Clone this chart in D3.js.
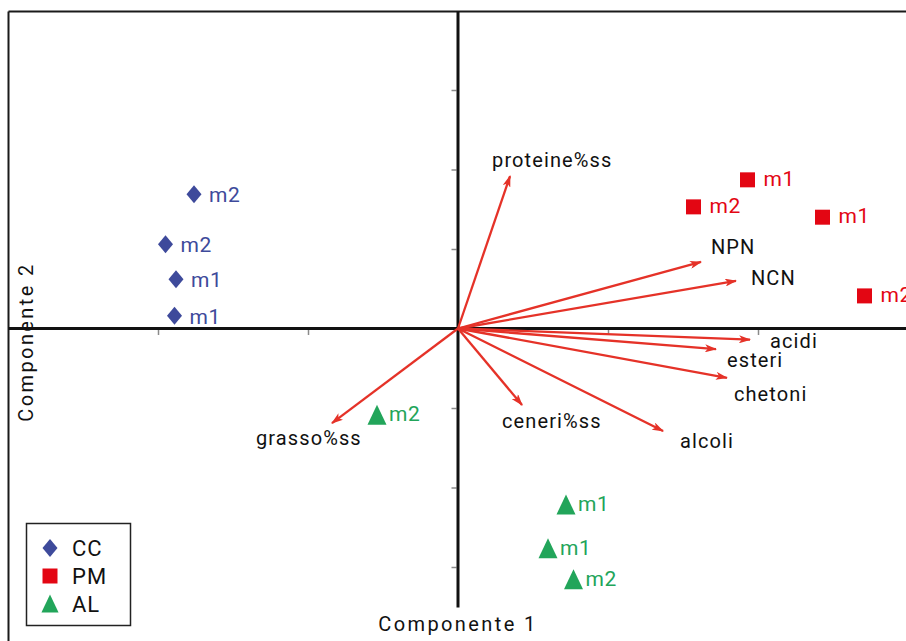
<!DOCTYPE html>
<html>
<head>
<meta charset="utf-8">
<script src="https://cdn.jsdelivr.net/npm/d3@7"></script>
<style>
  html, body { margin: 0; padding: 0; background: #fff; }
  svg { display: block; }
  text { font-family: Roboto, "Noto Sans", sans-serif; }
</style>
</head>
<body>
<svg id="chart" width="906" height="641"></svg>
<script>
// Scores of the samples on the first two principal components
const groups = ["CC", "PM", "AL"];
const groupColors = ["#3e4a9b", "#e30613", "#22a55a"];

const ccLabels = ["m2", "m2", "m1", "m1"];
const ccPC1 = [-1.76, -1.95, -1.88, -1.89];
const ccPC2 = [1.69, 1.06, 0.62, 0.16];

const pmLabels = ["m1", "m2", "m1", "m2"];
const pmPC1 = [1.93, 1.57, 2.43, 2.71];
const pmPC2 = [1.87, 1.53, 1.40, 0.41];

const alLabels = ["m2", "m1", "m1", "m2"];
const alPC1 = [-0.54, 0.72, 0.60, 0.77];
const alPC2 = [-1.09, -2.22, -2.77, -3.16];

// Variable loadings (arrow tips)
const varNames = ["proteine%ss", "NPN", "NCN", "acidi", "esteri", "chetoni", "alcoli", "ceneri%ss", "grasso%ss"];
const varPC1 = [0.347, 1.62, 1.853, 1.947, 1.72, 1.793, 1.367, 0.427, -0.84];
const varPC2 = [1.918, 0.837, 0.60, -0.14, -0.26, -0.62, -1.29, -0.962, -1.19];

const xTicks = [-2, -1, 1, 2];
const yTicks = [-3, -2, -1, 1, 2, 3];

const xTitle = "Componente 1";
const yTitle = "Componente 2";

// label placement relative to each arrow tip (px)
const varLabelDx = [-18, 10, 15, 20, 11, 7, 17, -20, -76];
const varLabelDy = [-9, -8, 4, 8, 18, 23, 17, 23, 22];

const svg = d3.select("#chart");

const x = d3.scaleLinear().domain([-3, 3]).range([8, 908]);
const y = d3.scaleLinear().domain([-4, 4]).range([646.5, 10.5]);

const x0 = x(0), y0 = y(0);

// frame (extends past the right and bottom edges)
svg.append("path")
  .attr("d", `M8.5,${y(4) + 1}V645M8.5,${y(4) + 1}H910`)
  .attr("fill", "none").attr("stroke", "#1a1a1a").attr("stroke-width", 2);

// tick marks
const xAxis = d3.axisBottom(x).tickValues(xTicks).tickSize(5).tickFormat("");
const gx = svg.append("g").attr("transform", `translate(0,${y0 + 1.5})`).call(xAxis);
gx.select(".domain").remove();
gx.selectAll(".tick line").attr("stroke", "#8a8a8a").attr("stroke-width", 1.5);

const yAxis = d3.axisLeft(y).tickValues(yTicks).tickSize(5).tickFormat("");
const gy = svg.append("g").attr("transform", `translate(${x0 - 1.5},0)`).call(yAxis);
gy.select(".domain").remove();
gy.selectAll(".tick line").attr("stroke", "#8a8a8a").attr("stroke-width", 1.5);

// axes through the origin
svg.append("line")
  .attr("x1", 8.5).attr("x2", 906).attr("y1", y0).attr("y2", y0)
  .attr("stroke", "#111").attr("stroke-width", 3);
svg.append("line")
  .attr("x1", x0).attr("x2", x0).attr("y1", y(4) + 1).attr("y2", y(-3.51))
  .attr("stroke", "#111").attr("stroke-width", 3);

// arrowhead marker
svg.append("defs").append("marker")
  .attr("id", "head")
  .attr("viewBox", "0 0 12 8")
  .attr("refX", 11).attr("refY", 4)
  .attr("markerWidth", 12).attr("markerHeight", 8)
  .attr("markerUnits", "userSpaceOnUse")
  .attr("orient", "auto")
  .append("path").attr("d", "M0,0L12,4L0,8L3,4Z").attr("fill", "#e53228");

// loading vectors
const vars = varNames.map((n, i) => ({ n, px: varPC1[i], py: varPC2[i], dx: varLabelDx[i], dy: varLabelDy[i] }));
svg.append("g").selectAll("line").data(vars).join("line")
  .attr("x1", x0).attr("y1", y0)
  .attr("x2", d => x(d.px)).attr("y2", d => y(d.py))
  .attr("stroke", "#e53228").attr("stroke-width", 2.3)
  .attr("marker-end", "url(#head)");

svg.append("g").selectAll("text").data(vars).join("text")
  .attr("x", d => x(d.px) + d.dx).attr("y", d => y(d.py) + d.dy)
  .attr("font-size", 20).attr("letter-spacing", 1.1).attr("fill", "#111")
  .text(d => d.n);

// marker shapes
const diamond = "M0,-9L7.5,0L0,9L-7.5,0Z";
const square = "M-7.5,-7.5H7.5V7.5H-7.5Z";
const triangle = "M0,-10.5L9.5,9.5H-9.5Z";
const shapes = [diamond, square, triangle];

const series = [
  { labels: ccLabels, pc1: ccPC1, pc2: ccPC2, dx: 15, dy: 8 },
  { labels: pmLabels, pc1: pmPC1, pc2: pmPC2, dx: 16, dy: 6 },
  { labels: alLabels, pc1: alPC1, pc2: alPC2, dx: 12, dy: 6 }
];

series.forEach((s, gi) => {
  const pts = s.labels.map((l, i) => ({ l, px: s.pc1[i], py: s.pc2[i] }));
  const g = svg.append("g");
  g.selectAll("path").data(pts).join("path")
    .attr("d", shapes[gi])
    .attr("transform", d => `translate(${x(d.px)},${y(d.py)})`)
    .attr("fill", groupColors[gi]);
  g.selectAll("text").data(pts).join("text")
    .attr("x", d => x(d.px) + s.dx).attr("y", d => y(d.py) + s.dy)
    .attr("font-size", 21).attr("fill", groupColors[gi])
    .attr("letter-spacing", 0.5)
    .text(d => d.l);
});

// axis titles
svg.append("text")
  .attr("x", 458).attr("y", 631).attr("text-anchor", "middle")
  .attr("font-size", 20).attr("letter-spacing", 2.4).attr("fill", "#111")
  .text(xTitle);
svg.append("text")
  .attr("transform", "translate(33,342) rotate(-90)").attr("text-anchor", "middle")
  .attr("font-size", 20).attr("letter-spacing", 2.4).attr("fill", "#111")
  .text(yTitle);

// legend
const lg = svg.append("g");
lg.append("rect").attr("x", 26.5).attr("y", 523.5).attr("width", 104).attr("height", 102)
  .attr("fill", "#fff").attr("stroke", "#222").attr("stroke-width", 1.5);
groups.forEach((gname, i) => {
  const cy = 548 + i * 28;
  lg.append("path").attr("d", shapes[i])
    .attr("transform", `translate(50,${cy}) scale(${i === 2 ? 0.9 : 1})`)
    .attr("fill", groupColors[i]);
  lg.append("text").attr("x", 72).attr("y", cy + 7.5)
    .attr("font-size", 22).attr("fill", "#111").attr("letter-spacing", 1)
    .text(gname);
});
</script>
</body>
</html>
